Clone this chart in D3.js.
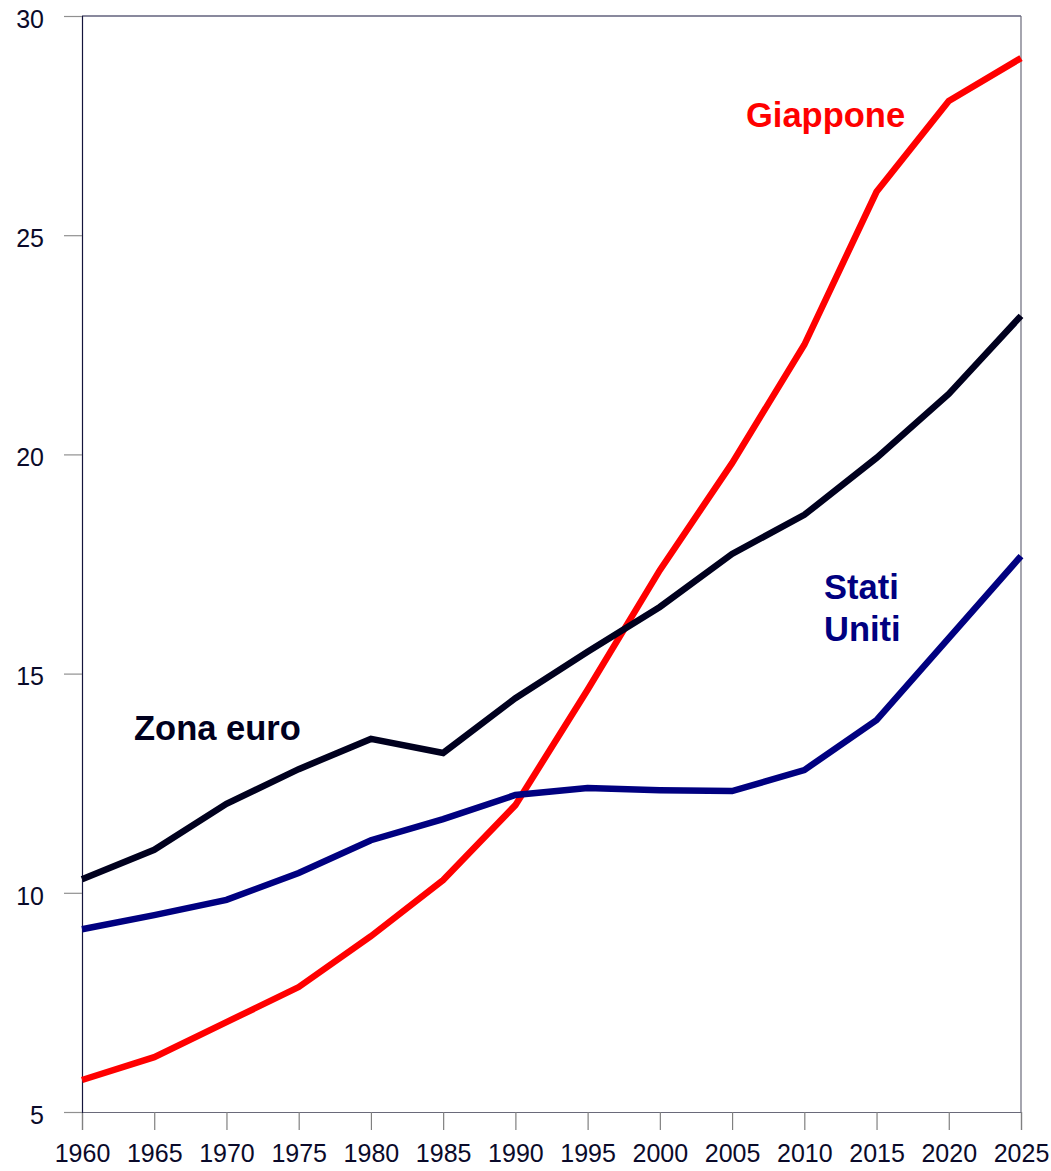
<!DOCTYPE html>
<html>
<head>
<meta charset="utf-8">
<script src="https://cdn.jsdelivr.net/npm/d3@7"></script>
<style>
  html, body { margin: 0; padding: 0; background: #fff; }
  svg { display: block; }
</style>
</head>
<body>
<svg id="chart" width="1051" height="1171"></svg>
<script>
const years = [1960, 1965, 1970, 1975, 1980, 1985, 1990, 1995, 2000, 2005, 2010, 2015, 2020, 2025];
const giappone = [5.73, 6.25, 7.05, 7.85, 9.01, 10.29, 12.0, 14.63, 17.36, 19.8, 22.5, 25.99, 28.06, 29.04];
const zonaEuro = [10.31, 10.98, 12.03, 12.82, 13.51, 13.19, 14.44, 15.5, 16.52, 17.73, 18.62, 19.92, 21.38, 23.16];
const statiUniti = [9.17, 9.49, 9.84, 10.45, 11.2, 11.68, 12.23, 12.39, 12.34, 12.32, 12.8, 13.94, 15.81, 17.68];
const yTicks = [5, 10, 15, 20, 25, 30];

(function () {
const svg = d3.select("#chart");
const pLeft = 82, pRight = 1021, pTop = 16, pBottom = 1112;
const x = d3.scaleLinear().domain([1960, 2025]).range([pLeft, pRight]);
const y = d3.scaleLinear().domain([5, 30]).range([pBottom, pTop]);
const textColor = "#0a0a2a";
const font = "'Liberation Sans', Arial, sans-serif";

// frame
svg.append("line").attr("x1", pLeft).attr("x2", pRight).attr("y1", pTop).attr("y2", pTop)
  .attr("stroke", "#14143c").attr("stroke-width", 1.2);
svg.append("line").attr("x1", pRight).attr("x2", pRight).attr("y1", pTop).attr("y2", pBottom)
  .attr("stroke", "#6a6a7a").attr("stroke-width", 1.2);

// x axis
const xAxis = d3.axisBottom(x).tickValues(years).tickFormat(d3.format("d")).tickSize(18).tickPadding(14);
const gx = svg.append("g").attr("transform", `translate(0,${pBottom})`).call(xAxis);
gx.select(".domain").attr("stroke", "#6a6a7a").attr("stroke-width", 1.2);
gx.selectAll(".tick line").attr("stroke", "#808080").attr("stroke-width", 1.2);
gx.selectAll(".tick text").attr("font-family", font).attr("font-size", 25).attr("fill", textColor);

// y axis
const yAxis = d3.axisLeft(y).tickValues(yTicks).tickFormat(d3.format("d")).tickSize(18).tickPadding(20);
const gy = svg.append("g").attr("transform", `translate(${pLeft},0)`).call(yAxis);
gy.select(".domain").attr("stroke", "#14143c").attr("stroke-width", 1.2);
gy.selectAll(".tick line").attr("stroke", "#909090").attr("stroke-width", 1.2);
gy.selectAll(".tick text").attr("font-family", font).attr("font-size", 25).attr("fill", textColor).attr("dy", "0.45em");

const line = d3.line().x((d, i) => x(years[i])).y(d => y(d));

const series = [
  { data: giappone, color: "#ff0000" },
  { data: statiUniti, color: "#000080" },
  { data: zonaEuro, color: "#00001e" }
];
series.forEach(s => {
  svg.append("path").datum(s.data).attr("d", line)
    .attr("fill", "none").attr("stroke", s.color).attr("stroke-width", 6.5)
    .attr("stroke-linejoin", "miter");
});

// labels
function label(txt, xx, yy, color) {
  svg.append("text").attr("x", xx).attr("y", yy).text(txt)
    .attr("font-family", font).attr("font-size", 34.5).attr("font-weight", "bold").attr("fill", color);
}
label("Giappone", 746, 127, "#ff0000");
label("Zona euro", 134, 740, "#00001e");
label("Stati", 824, 599, "#000080");
label("Uniti", 824, 641, "#000080");
})();
</script>
</body>
</html>
